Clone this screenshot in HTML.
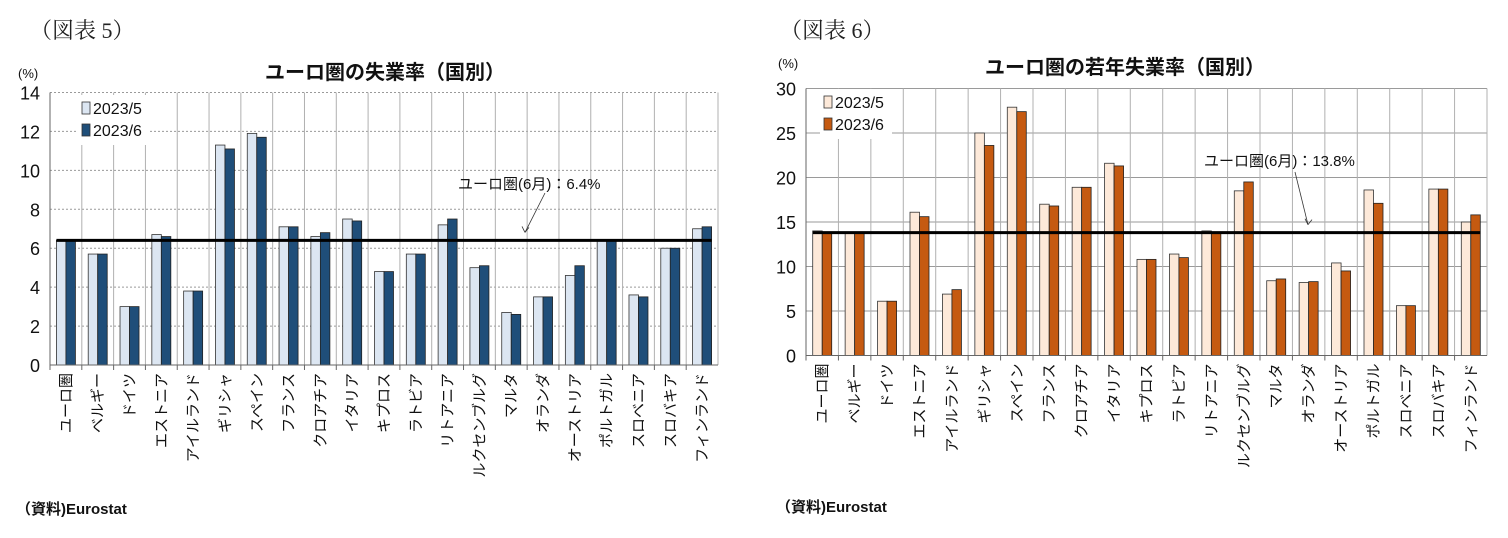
<!DOCTYPE html>
<html><head><meta charset="utf-8">
<style>
html,body{margin:0;padding:0;background:#fff;}
svg{display:block;font-family:"Liberation Sans","Noto Sans CJK JP",sans-serif;}
</style></head>
<body>
<svg id="svg" width="1508" height="538" viewBox="0 0 1508 538" xmlns="http://www.w3.org/2000/svg">
<text x="30" y="38" font-family="'Liberation Serif','Noto Serif CJK SC',serif" font-size="22" fill="#222">（図表 5）</text>
<text x="780" y="38" font-family="'Liberation Serif','Noto Serif CJK SC',serif" font-size="22" fill="#222">（図表 6）</text>
<text x="385" y="79" text-anchor="middle" font-size="20" font-weight="bold" fill="#111">ユーロ圏の失業率（国別）</text>
<text x="1125" y="74" text-anchor="middle" font-size="20" font-weight="bold" fill="#111">ユーロ圏の若年失業率（国別）</text>
<text x="18" y="78" font-size="13" fill="#111">(%)</text>
<text x="778" y="68" font-size="13" fill="#111">(%)</text>
<text x="16" y="514" font-size="15" font-weight="bold" fill="#111">（資料)Eurostat</text>
<text x="776" y="512" font-size="15" font-weight="bold" fill="#111">（資料)Eurostat</text>
</svg>
<script>
const categories = ["ユーロ圏","ベルギー","ドイツ","エストニア","アイルランド","ギリシャ","スペイン","フランス","クロアチア","イタリア","キプロス","ラトビア","リトアニア","ルクセンブルグ","マルタ","オランダ","オーストリア","ポルトガル","スロベニア","スロバキア","フィンランド"];
const seriesNames = ["2023/5","2023/6"];
const unemp_may = [6.4,5.7,3.0,6.7,3.8,11.3,11.9,7.1,6.6,7.5,4.8,5.7,7.2,5.0,2.7,3.5,4.6,6.4,3.6,6.0,7.0];
const unemp_jun = [6.4,5.7,3.0,6.6,3.8,11.1,11.7,7.1,6.8,7.4,4.8,5.7,7.5,5.1,2.6,3.5,5.1,6.4,3.5,6.0,7.1];
const unemp_ticks = [0,2,4,6,8,10,12,14];
const unemp_ref = 6.4;
const youth_may = [14.0,13.8,6.1,16.1,6.9,25.0,27.9,17.0,18.9,21.6,10.8,11.4,14.0,18.5,8.4,8.2,10.4,18.6,5.6,18.7,15.0];
const youth_jun = [13.8,13.8,6.1,15.6,7.4,23.6,27.4,16.8,18.9,21.3,10.8,11.0,13.8,19.5,8.6,8.3,9.5,17.1,5.6,18.7,15.8];
const youth_ticks = [0,5,10,15,20,25,30];
const youth_ref = 13.8;

const NS="http://www.w3.org/2000/svg";
const svg=document.getElementById('svg');
function mk(tag,attrs,parent){const e=document.createElementNS(NS,tag);for(const k in attrs)e.setAttribute(k,attrs[k]);(parent||svg).appendChild(e);return e;}

function drawChart(p,may,jun,ticks,ref,refLabel){
  const g=mk('g',{});
  
  
  const yMax=ticks[ticks.length-1];
  const y=v=>p.y0-(v/yMax)*(p.y0-p.yTop);
  const n=categories.length;
  const cw=(p.x1-p.x0)/n;
  const x=i=>p.x0+i*cw;
  ticks.forEach(t=>{
    if(t>0){const l=mk('line',{x1:p.x0,x2:p.x1,y1:y(t),y2:y(t),stroke:'#9a9a9a','stroke-width':1,'stroke-dasharray':p.dash},g);
    
    }
    const tl=mk('text',{x:p.x0-10,y:y(t)+7,'text-anchor':'end','font-size':18,fill:'#111'},g);
    tl.textContent=t;
    
    
  });
  for(let i=1;i<=n;i++){
    const l=mk('line',{x1:x(i),x2:x(i),y1:p.yTop,y2:p.y0,stroke:'#b0b0b0','stroke-width':1},g);
    
    
  }
  const bw=9.5;
  categories.forEach((c,i)=>{
    const cx=x(i)+cw/2;
    const b1=mk('rect',{x:cx-bw,y:y(may[i]),width:bw,height:p.y0-y(may[i]),fill:p.c1,stroke:'#333','stroke-width':0.8},g);
    
    
    const b2=mk('rect',{x:cx,y:y(jun[i]),width:bw,height:p.y0-y(jun[i]),fill:p.c2,stroke:'#222','stroke-width':0.8},g);
    
    
    const t=mk('text',{x:0,y:0,'text-anchor':'end','font-size':15,fill:'#111',transform:`translate(${cx+5},${p.y0+8}) rotate(-90)`},g);
    t.textContent=c;
    
    
    const tk=mk('line',{x1:x(i),x2:x(i),y1:p.y0,y2:p.y0+5,stroke:'#666'},g);
    
    
  });
  const ax=mk('line',{x1:p.x0,x2:p.x0,y1:p.yTop,y2:p.y0,stroke:'#666','stroke-width':1},g);
  
  
  const bx=mk('line',{x1:p.x0,x2:p.x1,y1:p.y0,y2:p.y0,stroke:'#666','stroke-width':1},g);
  
  
  const rl=mk('line',{x1:x(0)+cw/2-bw,x2:x(n-1)+cw/2+bw,y1:y(ref),y2:y(ref),stroke:'#000','stroke-width':3},g);
  
  
  const at=mk('text',{x:p.ax,y:p.ay,'font-size':15,fill:'#111'},g);
  at.textContent=refLabel;
  
  
  const ar=mk('line',{x1:p.a1[0],y1:p.a1[1],x2:p.a2[0],y2:y(ref)-8,stroke:'#333','stroke-width':0.8},g);
  
  
  const ah=mk('path',{d:`M${p.a2[0]},${y(ref)-8} l-3,-6 M${p.a2[0]},${y(ref)-8} l4,-5`,stroke:'#333','stroke-width':0.8,fill:'none'},g);
  
  
  const lg=mk('g',{},g);
  
  
  mk('rect',{x:p.lx-4,y:p.ly-4,width:72,height:50,fill:'#fff'},lg);
  [p.c1,p.c2].forEach((c,k)=>{
    const sw=mk('rect',{x:p.lx,y:p.ly+k*22+3,width:8,height:12,fill:c,stroke:'#333','stroke-width':0.8},lg);
    
    
    const lt=mk('text',{x:p.lx+11,y:p.ly+k*22+15,'font-size':16,fill:'#111'},lg);
    lt.textContent=seriesNames[k];
    
    
  });
}
drawChart({id:'chart1',x0:50,x1:718,y0:365,yTop:92.5,dash:'2,2',c1:'#dce6f2',c2:'#1f4e79',ax:458,ay:189,a1:[545,193],a2:[525],lx:82,ly:99},unemp_may,unemp_jun,unemp_ticks,unemp_ref,'ユーロ圏(6月)：6.4%');
drawChart({id:'chart2',x0:806,x1:1487,y0:355.5,yTop:88.5,dash:'none',c1:'#fde9d9',c2:'#c55a11',ax:1204,ay:166,a1:[1295,172],a2:[1308],lx:824,ly:93},youth_may,youth_jun,youth_ticks,youth_ref,'ユーロ圏(6月)：13.8%');
</script>
</body></html>
